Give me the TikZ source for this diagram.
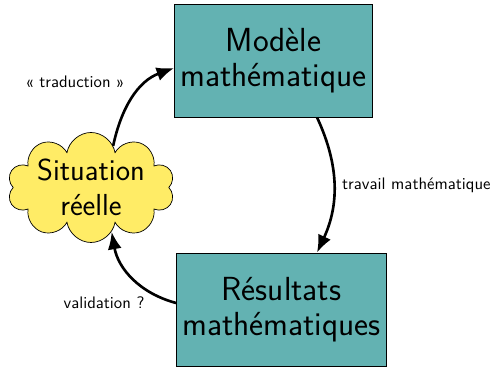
\documentclass[tikz,border=0pt]{standalone}
\usetikzlibrary{shapes.symbols}
\usetikzlibrary{arrows.meta, positioning}
\definecolor{boiteTeal}{RGB}{99, 178, 178}
\definecolor{nuageJaune}{RGB}{255, 236, 102}
\tikzset{
    boite/.style={draw=black, fill=boiteTeal, minimum height=2.26cm, align=center, font=\sffamily\fontsize{19}{20}\selectfont},
    nuage/.style={cloud, cloud puffs=10, cloud puff arc=160, draw=black, fill=nuageJaune, minimum width=3.34cm, minimum height=2.2cm, inner sep=0pt},
    texteNuage/.style={align=center, font=\sffamily\fontsize{17.3}{20}\selectfont},
    fleche/.style={-{Latex[length=3.5mm, width=2.8mm]}, line width=1.5pt},
    etiquette/.style={font=\sffamily\fontsize{9.5}{11}\selectfont}
}

\begin{document}
\begin{tikzpicture}
                    % Fix the frame of the picture
                    \useasboundingbox (0,0) rectangle (9.98,7.34);

                    % Draw the boxes and the cloud
                    \node[boite, minimum width=3.86cm] (modele) at (5.47,6.13) {Modèle\\mathématique};
                    \node[boite, minimum width=4.14cm] (resultats) at (5.63,1.15) {Résultats\\mathématiques};
                    \node[nuage] (situation) at (1.82,3.59) {};
                    \node[texteNuage] (situationTexte) at (situation) {Situation\\réelle};

                    % Draw the arrows between them
                    \draw[fleche] (situation.62) to[out=78, in=200] ([yshift=-0.15cm]modele.west);
                    \draw[fleche] ([xshift=0.87cm]modele.south) to[out=-65, in=65] ([xshift=0.71cm]resultats.north);
                    \draw[fleche] ([yshift=0.13cm]resultats.west) to[out=165, in=-80] (situation.-65);

                    % Write the labels of the arrows
                    \node[etiquette] (traduction) at (1.5,5.70) {« traduction »};
                    \node[etiquette, anchor=west] (travail) at (6.72,3.64) {travail mathématique};
                    \node[etiquette] (validation) at (2.08,1.28) {validation ?};
                \end{tikzpicture}
\end{document}
